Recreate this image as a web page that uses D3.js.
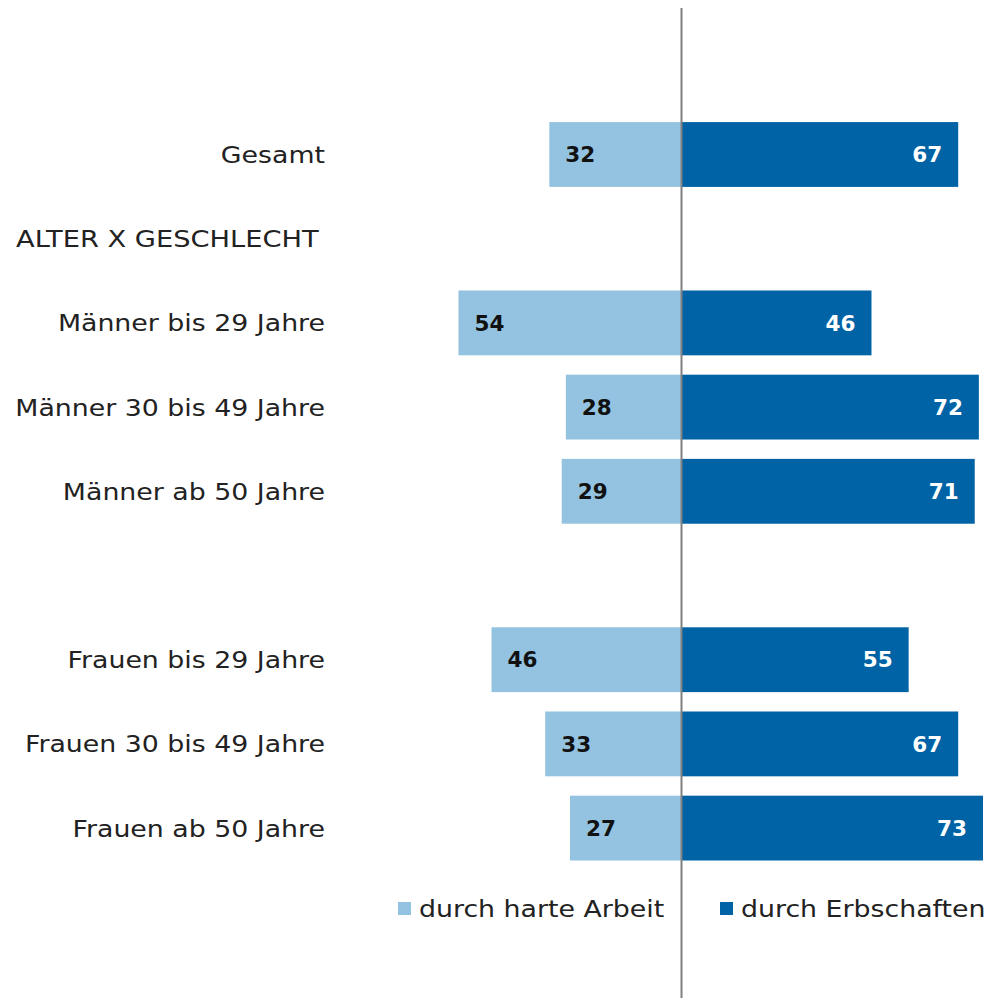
<!DOCTYPE html>
<html><head><meta charset="utf-8">
<script src="https://cdn.jsdelivr.net/npm/d3@7/dist/d3.min.js"></script>
<style>body{margin:0;background:#fff}svg{display:block}</style>
</head><body>
<script>
const categories = ["Gesamt","ALTER X GESCHLECHT","Männer bis 29 Jahre","Männer 30 bis 49 Jahre","Männer ab 50 Jahre","","Frauen bis 29 Jahre","Frauen 30 bis 49 Jahre","Frauen ab 50 Jahre"];
const headerRows = ["ALTER X GESCHLECHT"];
const hardWork = [32,null,54,28,29,null,46,33,27];
const inheritance = [67,null,46,72,71,null,55,67,73];
const seriesNames = ["durch harte Arbeit","durch Erbschaften"];
const colors = ["#93c3e0","#0063a6"];

const W=994,H=998;
const svg=d3.select("body").append("svg").attr("width",W).attr("height",H);
const font="'DejaVu Sans', sans-serif";
const fs=23.5, sx=1.14;
const cx=681.5;
const x=d3.scaleLinear().domain([-100,100]).range([cx-413,cx+413]);
const y=d3.scaleBand().domain(d3.range(categories.length)).range([112.4,870.2]).paddingInner(0.23).paddingOuter(0.115);

const rows=categories.map((c,i)=>({c,i,a:hardWork[i],b:inheritance[i]}));

svg.selectAll("text.cat").data(rows.filter(r=>r.c && !headerRows.includes(r.c))).join("text")
 .attr("transform",r=>`translate(325,${y(r.i)+y.bandwidth()/2}) scale(${sx},1)`).attr("dy","0.36em")
 .attr("text-anchor","end").attr("font-family",font).attr("font-size",fs).attr("fill","#222")
 .text(r=>r.c);
svg.selectAll("text.hdr").data(rows.filter(r=>headerRows.includes(r.c))).join("text")
 .attr("transform",r=>`translate(16,${y(r.i)+y.bandwidth()/2}) scale(${sx+0.02},1)`).attr("dy","0.36em")
 .attr("text-anchor","start").attr("font-family",font).attr("font-size",fs).attr("fill","#222")
 .text(r=>r.c);

const data=rows.filter(r=>r.a!=null);
svg.selectAll("rect.a").data(data).join("rect")
 .attr("x",r=>x(-r.a)).attr("width",r=>cx-x(-r.a)).attr("y",r=>y(r.i)).attr("height",y.bandwidth()).attr("fill",colors[0]);
svg.selectAll("rect.b").data(data).join("rect")
 .attr("x",cx).attr("width",r=>x(r.b)-cx).attr("y",r=>y(r.i)).attr("height",y.bandwidth()).attr("fill",colors[1]);
svg.selectAll("text.va").data(data).join("text")
 .attr("x",r=>x(-r.a)+16).attr("y",r=>y(r.i)+y.bandwidth()/2).attr("dy","0.36em")
 .attr("font-family",font).attr("font-weight","bold").attr("font-size",21.5).attr("fill","#111").text(r=>r.a);
svg.selectAll("text.vb").data(data).join("text")
 .attr("x",r=>x(r.b)-16).attr("y",r=>y(r.i)+y.bandwidth()/2).attr("dy","0.36em").attr("text-anchor","end")
 .attr("font-family",font).attr("font-weight","bold").attr("font-size",21.5).attr("fill","#fff").text(r=>r.b);

svg.append("line").attr("x1",cx).attr("x2",cx).attr("y1",8).attr("y2",998).attr("stroke","#808080").attr("stroke-width",2);

const leg=[{n:seriesNames[0],c:colors[0],x:398},{n:seriesNames[1],c:colors[1],x:720}];
const lg=svg.selectAll("g.leg").data(leg).join("g").attr("transform",d=>`translate(${d.x},902)`);
lg.append("rect").attr("width",13).attr("height",13).attr("fill",d=>d.c);
lg.append("text").attr("transform",`translate(21,6.5) scale(${sx},1)`).attr("dy","0.36em").attr("font-family",font).attr("font-size",fs).attr("fill","#222").text(d=>d.n);
</script>
</body></html>
